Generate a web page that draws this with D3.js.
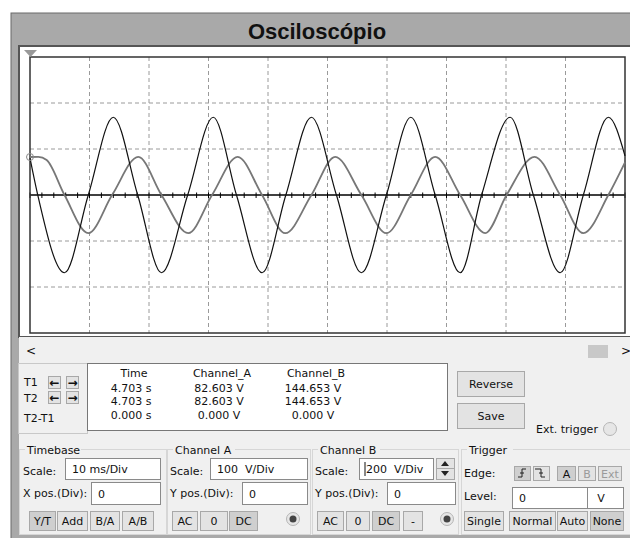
<!DOCTYPE html>
<html>
<head>
<meta charset="utf-8">
<script src="https://cdn.jsdelivr.net/npm/d3@7"></script>
<style>
  body { margin: 0; background: #fff; }
  svg text { font-family: "DejaVu Sans", Verdana, sans-serif; font-size: 11px; fill: #111; }
</style>
</head>
<body>
<svg id="osc" width="630" height="538"></svg>
<script>
// Kanal A (grau) und Kanal B (schwarz), Zeit in ms, Spannung in V
const timeA = [0, 1.4, 2.8, 5.8, 9.8, 13.8, 18.2, 22.1, 26.6, 30.6, 34.9, 39.0, 42.9, 47.3, 51.3, 55.7, 59.9, 64.0, 68.1, 72.3, 76.5, 80.1, 84.8, 89.1, 93.0, 97.2, 100];
const voltA = [82.6, 83, 76, 0, -83, 0, 83, 0, -83, 0, 83, 0, -83, 0, 83, 0, -83, 0, 83, 0, -83, 0, 83, 0, -83, 0, 71];
const timeB = [0, 1.3, 5.8, 9.8, 14.0, 18.1, 22.1, 26.5, 30.8, 34.7, 39.0, 43.0, 47.3, 51.5, 55.7, 59.9, 64.0, 68.1, 72.3, 75.9, 80.7, 84.6, 89.1, 93.0, 97.2, 100];
const voltB = [160, 0, -338, 0, 338, 0, -338, 0, 338, 0, -338, 0, 338, 0, -338, 0, 338, 0, -338, 0, 338, 0, -338, 0, 338, 170];

// Raster: 10 ms/Div, 100 V/Div (A), 200 V/Div (B)
const timeGrid = [10, 20, 30, 40, 50, 60, 70, 80, 90];
const voltGridA = [-200, -100, 100, 200];

// Cursor-Tabelle
const tableHead = ["Time", "Channel_A", "Channel_B"];
const tableRows = [
  ["4.703 s", "82.603 V", "144.653 V"],
  ["4.703 s", "82.603 V", "144.653 V"],
  ["0.000 s", "0.000 V", "0.000 V"]
];
const cursorT = 0, cursorA = 82.603;

let svg = d3.select("#osc");

let xScale = d3.scaleLinear().domain([0, 100]).range([30, 625]),
    yA = d3.scaleLinear().domain([-300, 300]).range([333, 57]),
    yB = d3.scaleLinear().domain([-600, 600]).range([333, 57]);

// Fensterrahmen
svg.append("rect").attr("x", 11).attr("y", 13).attr("width", 625).attr("height", 530)
    .attr("fill", "#a9a9a9").attr("stroke", "#6a6a6a");
svg.append("text").attr("x", 317).attr("y", 39).attr("text-anchor", "middle")
    .style("font-family", "'Liberation Sans', Arial, sans-serif")
    .style("font-size", "22px").style("font-weight", "bold")
    .text("Osciloscópio");

// Bildschirm
svg.append("rect").attr("x", 19).attr("y", 46).attr("width", 615).attr("height", 291)
    .attr("fill", "#fff").attr("stroke", "#555").attr("stroke-width", 2);
svg.append("rect").attr("x", 19).attr("y", 337).attr("width", 615).attr("height", 198)
    .attr("fill", "#f0f0f0");

let plot = svg.append("g");

plot.selectAll(".vgrid").data(timeGrid).enter().append("line")
    .attr("x1", d => xScale(d)).attr("x2", d => xScale(d))
    .attr("y1", 57).attr("y2", 333)
    .attr("stroke", "#9a9a9a").attr("stroke-dasharray", "4,3");
plot.selectAll(".hgrid").data(voltGridA).enter().append("line")
    .attr("x1", 30).attr("x2", 625)
    .attr("y1", d => yA(d)).attr("y2", d => yA(d))
    .attr("stroke", "#9a9a9a").attr("stroke-dasharray", "4,3");

// Nulllinie mit Teilstrichen
plot.append("line").attr("x1", 30).attr("x2", 625).attr("y1", yA(0)).attr("y2", yA(0))
    .attr("stroke", "#000").attr("stroke-width", 1.5);
plot.selectAll(".mtick").data(xScale.ticks(50)).enter().append("line")
    .attr("x1", d => xScale(d)).attr("x2", d => xScale(d))
    .attr("y1", yA(0) - 2.5).attr("y2", yA(0) + 3)
    .attr("stroke", "#000");

plot.append("rect").attr("x", 30).attr("y", 57).attr("width", 595).attr("height", 276)
    .attr("fill", "none").attr("stroke", "#333").attr("stroke-width", 1.5);

// Kurven
let dataA = timeA.map((t, i) => ({ t: t, v: voltA[i] })),
    dataB = timeB.map((t, i) => ({ t: t, v: voltB[i] }));

plot.append("path").datum(dataA)
    .attr("fill", "none").attr("stroke", "#777").attr("stroke-width", 1.8)
    .attr("d", d3.line().curve(d3.curveMonotoneX)
        .x(d => xScale(d.t)).y(d => yA(d.v)));
plot.append("path").datum(dataB)
    .attr("fill", "none").attr("stroke", "#111").attr("stroke-width", 1.2)
    .attr("d", d3.line().curve(d3.curveMonotoneX)
        .x(d => xScale(d.t)).y(d => yB(d.v)));

// Cursor
plot.append("circle").attr("cx", xScale(cursorT)).attr("cy", yA(cursorA)).attr("r", 3.5)
    .attr("fill", "none").attr("stroke", "#888");
plot.append("path").attr("d", "M24,50 L37,50 L30.5,57 Z").attr("fill", "#999");

// Scrollleiste
svg.append("text").attr("x", 26).attr("y", 355).style("font-size", "12px").text("<");
svg.append("rect").attr("x", 588).attr("y", 345).attr("width", 20).attr("height", 13).attr("fill", "#c8c8c8");
svg.append("text").attr("x", 621).attr("y", 355).style("font-size", "12px").text(">");

// Hilfsfunktionen für Bedienelemente
function button(x0, y0, w, h, label, pressed, disabled) {
    svg.append("rect").attr("x", x0 + 0.5).attr("y", y0 + 0.5).attr("width", w).attr("height", h)
        .attr("fill", pressed ? "#cfcfcf" : "#e3e3e3").attr("stroke", "#a8a8a8");
    if (label) {
        svg.append("text").attr("x", x0 + w / 2 + 0.5).attr("y", y0 + h / 2 + 4.5)
            .attr("text-anchor", "middle").style("fill", disabled ? "#9a9a9a" : "#111").text(label);
    }
}
function input(x0, y0, w, h, label) {
    svg.append("rect").attr("x", x0 + 0.5).attr("y", y0 + 0.5).attr("width", w).attr("height", h)
        .attr("fill", "#fff").attr("stroke", "#8a8a8a");
    svg.append("text").attr("x", x0 + 7).attr("y", y0 + h / 2 + 4.5).text(label);
}
function label(x0, y0, txt) {
    svg.append("text").attr("x", x0).attr("y", y0 + 4.5).text(txt);
}
function group(x0, w, title, tw) {
    svg.append("rect").attr("x", x0 + 0.5).attr("y", 449.5).attr("width", w).attr("height", 85)
        .attr("fill", "none").attr("stroke", "#d6d6d6");
    svg.append("rect").attr("x", x0 + 6).attr("y", 443).attr("width", tw).attr("height", 12).attr("fill", "#f0f0f0");
    svg.append("text").attr("x", x0 + 8).attr("y", 453.5).text(title);
}
function radio(cx, cy, dot) {
    svg.append("circle").attr("cx", cx).attr("cy", cy).attr("r", 6.5)
        .attr("fill", "#e6e6e6").attr("stroke", "#b5b5b5");
    if (dot) svg.append("circle").attr("cx", cx).attr("cy", cy).attr("r", 3.5).attr("fill", "#444");
}

// T1 / T2 Feld
svg.append("rect").attr("x", 18.5).attr("y", 363.5).attr("width", 69).attr("height", 70)
    .attr("fill", "#f0f0f0").attr("stroke", "#c8c8c8");
label(24, 381, "T1");
label(24, 397, "T2");
label(24, 417, "T2-T1");
[[48, 376], [66, 376], [48, 391], [66, 391]].forEach((p, i) => {
    button(p[0], p[1], 12, 12, "", false);
    svg.append("text").attr("x", p[0] + 6.5).attr("y", p[1] + 10.5).attr("text-anchor", "middle")
        .style("font-size", "12px").style("font-weight", "bold")
        .text(i % 2 === 0 ? "\u2190" : "\u2192");
});

svg.append("rect").attr("x", 87.5).attr("y", 363.5).attr("width", 360).attr("height", 67)
    .attr("fill", "#fff").attr("stroke", "#777");
const colX = [134, 222, 316];
tableHead.forEach((h, i) => {
    svg.append("text").attr("x", colX[i]).attr("y", 377).attr("text-anchor", "middle").text(h);
});
tableRows.forEach((row, r) => {
    row.forEach((c, i) => {
        svg.append("text").attr("x", colX[i] - 3).attr("y", 391.5 + r * 13.5).attr("text-anchor", "middle").text(c);
    });
});

button(457, 371, 67, 25, "Reverse");
button(457, 403, 67, 25, "Save");
label(536, 428, "Ext. trigger");
radio(610, 429, false);

// Timebase
group(19, 147, "Timebase", 56);
label(23, 470, "Scale:");
input(65, 458, 95, 21, "10 ms/Div");
label(23, 492, "X pos.(Div):");
input(91, 482, 69, 22, "0");
button(29, 511, 26, 19, "Y/T", true);
button(57, 511, 30, 19, "Add");
button(90, 511, 29, 19, "B/A");
button(122, 511, 31, 19, "A/B");

// Channel A
group(167, 143, "Channel A", 62);
label(170, 470, "Scale:");
input(210, 458, 97, 21, "100\u00a0 V/Div");
label(170, 492, "Y pos.(Div):");
input(242, 482, 65, 22, "0");
button(172, 511, 25, 19, "AC");
button(200, 511, 27, 19, "0");
button(229, 511, 28, 19, "DC", true);
radio(293, 519, true);

// Channel B
group(312, 146, "Channel B", 62);
label(315, 470, "Scale:");
input(359, 458, 74, 21, "200\u00a0 V/Div");
svg.append("line").attr("x1", 365).attr("x2", 365).attr("y1", 462).attr("y2", 476).attr("stroke", "#111");
button(436, 458, 18, 10, "");
button(436, 468, 18, 11, "");
svg.append("path").attr("d", "M441,466 L449,466 L445,461 Z M441,471 L449,471 L445,476 Z").attr("fill", "#222");
label(315, 492, "Y pos.(Div):");
input(387, 482, 68, 22, "0");
button(317, 511, 26, 19, "AC");
button(346, 511, 23, 19, "0");
button(372, 511, 27, 19, "DC", true);
button(403, 511, 19, 19, "-");
radio(447, 519, true);

// Trigger
group(461, 170, "Trigger", 46);
label(464, 472, "Edge:");
button(514, 466, 16, 14, "", true);
button(533, 466, 16, 14, "");
svg.append("path").attr("d", "M518,477 L522,477 L522,469 L526,469 M520,473 L524,473 M535,469 L541,469 L541,477 L545,477 M539,473 L543,473")
    .attr("fill", "none").attr("stroke", "#222");
button(557, 466, 18, 14, "A", true);
button(578, 466, 17, 14, "B", false, true);
button(598, 466, 23, 14, "Ext", false, true);
label(464, 495, "Level:");
input(512, 487, 75, 21, "0");
svg.append("rect").attr("x", 587.5).attr("y", 487.5).attr("width", 36).attr("height", 21)
    .attr("fill", "#fff").attr("stroke", "#8a8a8a");
svg.append("text").attr("x", 601).attr("y", 502).attr("text-anchor", "middle").text("V");
button(464, 511, 39, 19, "Single");
button(509, 511, 46, 19, "Normal");
button(557, 511, 30, 19, "Auto");
button(590, 511, 33, 19, "None", true);
</script>
</body>
</html>
